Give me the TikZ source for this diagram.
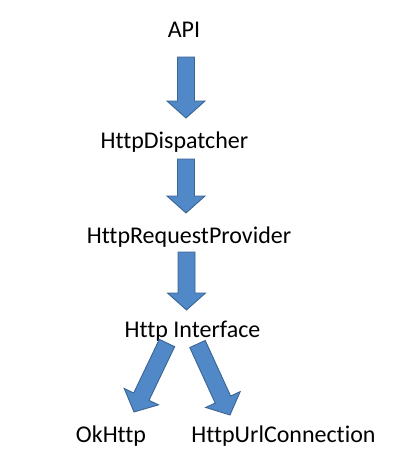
\documentclass[tikz,border=0pt]{standalone}
\usepackage{fontspec}
\setmainfont[Ligatures={NoCommon}]{Carlito}
\usetikzlibrary{calc}
\definecolor{arrfill}{HTML}{5088C8}
\definecolor{arrline}{HTML}{3B6592}
\tikzset{
  lbl/.style={anchor=base, inner sep=0pt, font=\fontsize{24}{28}\selectfont},
  barrow/.style={fill=arrfill, draw=arrline, line width=0.9pt, line join=miter}
}
\newcommand\blockarr[2]{%
  \draw[barrow] let \p1=(#1), \p2=(#2),
    \n1={atan2(\y2-\y1,\x2-\x1)}, \n2={veclen(\x2-\x1,\y2-\y1)} in
    [shift={(\p1)}, rotate=\n1]
    (0pt,-8.5pt) -- (\n2-17pt,-8.5pt) -- (\n2-17pt,-19pt) -- (\n2,0pt)
    -- (\n2-17pt,19pt) -- (\n2-17pt,8.5pt) -- (0pt,8.5pt) -- cycle;}
\begin{document}
\begin{tikzpicture}[x=1pt,y=-1pt]
\useasboundingbox (0,0) rectangle (410,474);
\node[lbl] (api) at (184,37) {API};
\node[lbl] (disp) at (174.5,148) {HttpDispatcher};
\node[lbl] (prov) at (189,243) {HttpRequestProvider};
\node[lbl] (intf) at (192.5,337) {Http Interface};
\node[lbl] (ok) at (111,442) {OkHttp};
\node[lbl] (url) at (283.5,442) {HttpUrlConnection};
\coordinate (a1s) at (186,57);  \coordinate (a1e) at (186,118);
\coordinate (a2s) at (186,159); \coordinate (a2e) at (186,213);
\coordinate (a3s) at (186.5,252); \coordinate (a3e) at (186.5,310);
\coordinate (a4s) at (167,343); \coordinate (a4e) at (134,412);
\coordinate (a5s) at (197.5,344); \coordinate (a5e) at (230,415);
\blockarr{a1s}{a1e}
\blockarr{a2s}{a2e}
\blockarr{a3s}{a3e}
\blockarr{a4s}{a4e}
\blockarr{a5s}{a5e}
\end{tikzpicture}
\end{document}
